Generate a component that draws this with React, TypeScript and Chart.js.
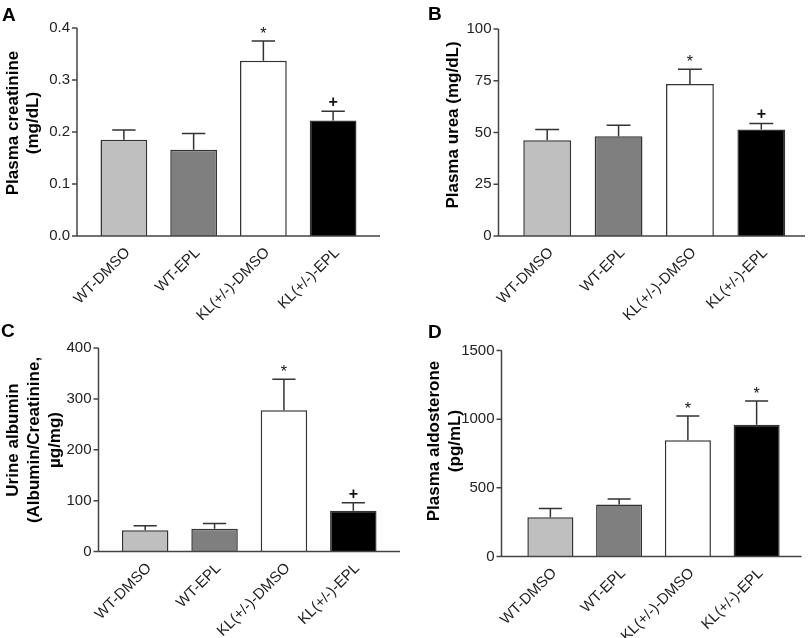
import React, { useEffect, useRef } from 'react';
import { Chart, registerables } from 'chart.js';

Chart.register(...registerables);

const categories = ['WT-DMSO', 'WT-EPL', 'KL(+/-)-DMSO', 'KL(+/-)-EPL'];
const barColors = ['#bfbfbf', '#7f7f7f', '#ffffff', '#000000'];

const creatinine = [0.185, 0.166, 0.337, 0.222];
const creatinineSem = [0.019, 0.031, 0.038, 0.018];
const creatinineMarks = ['', '', '*', '+'];
const creatinineTicks = [0, 0.1, 0.2, 0.3, 0.4];
const creatinineTitle = ['Plasma creatinine', '(mg/dL)'];

const urea = [46.3, 48.2, 73.4, 51.5];
const ureaSem = [5.2, 5.3, 7.2, 2.9];
const ureaMarks = ['', '', '*', '+'];
const ureaTicks = [0, 25, 50, 75, 100];
const ureaTitle = ['Plasma urea (mg/dL)'];

const albumin = [41.8, 44.8, 277.4, 80.2];
const albuminSem = [8.6, 10.0, 61.0, 15.7];
const albuminMarks = ['', '', '*', '+'];
const albuminTicks = [0, 100, 200, 300, 400];
const albuminTitle = ['Urine albumin', '(Albumin/Creatinine,', 'µg/mg)'];

const aldosterone = [285, 378, 846, 960];
const aldosteroneSem = [65, 40, 177, 173];
const aldosteroneMarks = ['', '', '*', '*'];
const aldosteroneTicks = [0, 500, 1000, 1500];
const aldosteroneTitle = ['Plasma aldosterone', '(pg/mL)'];

const FONT = '"Liberation Sans", Arial, Helvetica, sans-serif';

type Panel = {
  letter: string;
  values: number[];
  sem: number[];
  marks: string[];
  ticks: number[];
  decimals: number;
  title: string[];
  x: number;
  y: number;
  w: number;
  h: number;
  left: number;
  right: number;
  top: number;
  bottom: number;
  padL: number;
  padR: number;
  titleX: number[];
  titleY: number;
  letterX: number;
  letterY: number;
};

const panels: Panel[] = [
  {
    letter: 'A', values: creatinine, sem: creatinineSem, marks: creatinineMarks, ticks: creatinineTicks,
    decimals: 1, title: creatinineTitle,
    x: 0, y: 0, w: 405, h: 320, left: 89, right: 368, top: 22, bottom: 236, padL: 12, padR: 12,
    titleX: [13, 33], titleY: 123, letterX: 2, letterY: 21,
  },
  {
    letter: 'B', values: urea, sem: ureaSem, marks: ureaMarks, ticks: ureaTicks,
    decimals: 0, title: ureaTitle,
    x: 405, y: 0, w: 405, h: 320, left: 106.5, right: 392, top: 22, bottom: 236, padL: 13, padR: 8,
    titleX: [48], titleY: 125, letterX: 23, letterY: 20,
  },
  {
    letter: 'C', values: albumin, sem: albuminSem, marks: albuminMarks, ticks: albuminTicks,
    decimals: 0, title: albuminTitle,
    x: 0, y: 320, w: 405, h: 318, left: 110.5, right: 388, top: 17.5, bottom: 231.5, padL: 12, padR: 12,
    titleX: [13, 34, 55], titleY: 120, letterX: 1, letterY: 17,
  },
  {
    letter: 'D', values: aldosterone, sem: aldosteroneSem, marks: aldosteroneMarks, ticks: aldosteroneTicks,
    decimals: 0, title: aldosteroneTitle,
    x: 405, y: 320, w: 405, h: 318, left: 111, right: 386, top: 22.5, bottom: 236.5, padL: 14.5, padR: 10.5,
    titleX: [29, 50], titleY: 121, letterX: 23, letterY: 18,
  },
];

function makeDecor(p: Panel) {
  return {
    id: 'panelDecor' + p.letter,
    afterDatasetsDraw(chart: any) {
      const { ctx, chartArea, scales } = chart;
      const ys = scales.y;
      const meta = chart.getDatasetMeta(0);
      ctx.save();
      ctx.strokeStyle = '#333';
      ctx.lineWidth = 1.5;
      meta.data.forEach((el: any, i: number) => {
        const { x, y, width } = el.getProps(['x', 'y', 'width'], true);
        const yErr = ys.getPixelForValue(p.values[i] + p.sem[i]);
        ctx.beginPath();
        ctx.moveTo(x, y);
        ctx.lineTo(x, yErr);
        ctx.moveTo(x - width / 4, yErr);
        ctx.lineTo(x + width / 4, yErr);
        ctx.stroke();
        const m = p.marks[i];
        if (m) {
          ctx.fillStyle = '#111';
          ctx.textAlign = 'center';
          ctx.textBaseline = 'alphabetic';
          if (m === '*') {
            ctx.font = `16px ${FONT}`;
            ctx.fillText(m, x, yErr - 2);
          } else {
            ctx.font = `bold 16px ${FONT}`;
            ctx.fillText(m, x, yErr - 4);
          }
        }
      });
      const x0 = chartArea.left - p.padL;
      const yTopAxis = ys.getPixelForValue(p.ticks[p.ticks.length - 1]);
      ctx.strokeStyle = '#444';
      ctx.lineWidth = 1.5;
      ctx.beginPath();
      ctx.moveTo(x0, yTopAxis);
      ctx.lineTo(x0, chartArea.bottom);
      ctx.lineTo(chartArea.right + p.padR, chartArea.bottom);
      p.ticks.forEach((t) => {
        const ty = ys.getPixelForValue(t);
        ctx.moveTo(x0 - 5, ty);
        ctx.lineTo(x0, ty);
      });
      ctx.stroke();
      ctx.fillStyle = '#000';
      ctx.font = `bold 17px ${FONT}`;
      ctx.textAlign = 'center';
      ctx.textBaseline = 'middle';
      p.title.forEach((line, k) => {
        ctx.save();
        ctx.translate(p.titleX[k], p.titleY);
        ctx.rotate(-Math.PI / 2);
        ctx.fillText(line, 0, 0);
        ctx.restore();
      });
      ctx.font = `bold 19px ${FONT}`;
      ctx.textAlign = 'left';
      ctx.textBaseline = 'alphabetic';
      ctx.fillText(p.letter, p.letterX, p.letterY);
      ctx.restore();
    },
  };
}

function PanelChart({ p }: { p: Panel }) {
  const ref = useRef<HTMLCanvasElement | null>(null);
  useEffect(() => {
    if (!ref.current) return;
    const chart = new Chart(ref.current, {
      type: 'bar',
      data: {
        labels: categories,
        datasets: [
          {
            data: p.values,
            backgroundColor: barColors,
            borderColor: '#333',
            borderWidth: 1.5,
            barPercentage: 0.67,
            categoryPercentage: 1,
          },
        ],
      },
      options: {
        responsive: false,
        animation: false,
        devicePixelRatio: 1,
        layout: { padding: { left: 0, top: p.top, right: p.w - p.right, bottom: 0 } },
        plugins: { legend: { display: false }, tooltip: { enabled: false }, title: { display: false } },
        scales: {
          x: {
            type: 'category',
            offset: true,
            grid: { display: false, drawTicks: false },
            border: { display: false },
            ticks: {
              autoSkip: false,
              maxRotation: 45,
              minRotation: 45,
              padding: 8,
              labelOffset: 4,
              color: '#222',
              font: { family: FONT, size: 15 },
            },
            afterFit: (s: any) => {
              s.height = p.h - p.bottom;
            },
          },
          y: {
            min: p.ticks[0],
            max: p.ticks[p.ticks.length - 1],
            grid: { display: false, drawTicks: false },
            border: { display: false },
            ticks: {
              padding: p.padL + 7,
              color: '#222',
              font: { family: FONT, size: 15 },
              callback: (v: any) => Number(v).toFixed(p.decimals),
            },
            afterBuildTicks: (s: any) => {
              s.ticks = p.ticks.map((v) => ({ value: v }));
            },
            afterFit: (s: any) => {
              s.width = p.left;
            },
          },
        },
      },
      plugins: [makeDecor(p)],
    });
    return () => chart.destroy();
  }, [p]);
  return (
    <canvas
      ref={ref}
      width={p.w}
      height={p.h}
      style={{ position: 'absolute', left: p.x, top: p.y, width: p.w, height: p.h, display: 'block' }}
    />
  );
}

export default function App() {
  return (
    <div style={{ position: 'absolute', left: 0, top: 0, width: 810, height: 638, background: '#fff' }}>
      {panels.map((p) => (
        <PanelChart key={p.letter} p={p} />
      ))}
    </div>
  );
}
